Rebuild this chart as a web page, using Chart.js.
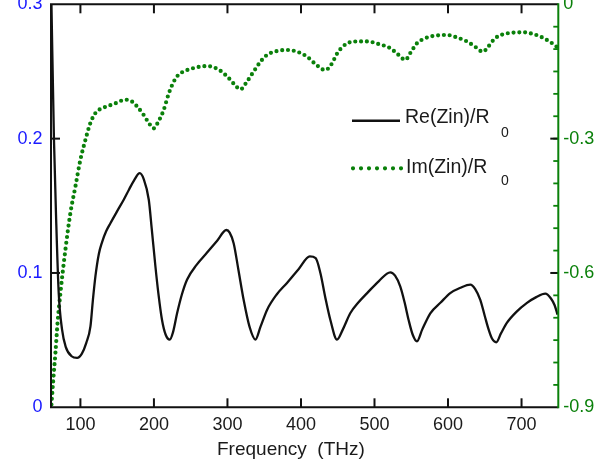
<!DOCTYPE html>
<html><head><meta charset="utf-8">
<script src="https://cdn.jsdelivr.net/npm/chart.js@4.4.1/dist/chart.umd.min.js"></script>
<style>html,body{margin:0;padding:0;background:#fff;overflow:hidden}#wrap{width:616px;height:465px;position:relative}</style>
</head><body><div id="wrap"><canvas id="c" width="616" height="465"></canvas></div>
<script>
// ---- data ----
const reFreq = [60.6,64,67,70.5,75,80,88,95.5,102,108,113.6,117,120.4,125,129.5,135,140.8,150,158.9,166,173,180.7,186,193,197,202,206,211,216,221.5,226,231.5,238,245,258,272,286,298.5,303,308.5,315,322,330,338,345,354,367,381,397,412,420,426.4,433,440,449,457,467,478,490,506,521.5,528,535,541,546.4,552,557.8,565,575.9,590,603,617,630.3,637,643.9,650,655.2,660,665.6,672,680,693,707.4,720,732.3,740,745,749];
const reVal = [0.300,0.200,0.140,0.085,0.058,0.045,0.038,0.0368,0.040,0.048,0.060,0.080,0.0975,0.114,0.123,0.131,0.137,0.146,0.1545,0.162,0.169,0.1743,0.170,0.1545,0.133,0.105,0.085,0.065,0.054,0.0504,0.056,0.070,0.084,0.095,0.106,0.115,0.124,0.132,0.130,0.122,0.102,0.080,0.060,0.0504,0.060,0.0727,0.084,0.0926,0.103,0.1123,0.111,0.100,0.082,0.065,0.0504,0.058,0.070,0.078,0.085,0.094,0.1005,0.098,0.090,0.078,0.065,0.054,0.0491,0.058,0.070,0.078,0.085,0.089,0.0913,0.088,0.080,0.068,0.058,0.051,0.0484,0.055,0.0628,0.071,0.0777,0.082,0.0846,0.081,0.076,0.069];
const imFreq = [60.6,63,66,69,72.8,79.6,86.4,93.2,100,106.8,113.6,120.4,128,136.3,148,161.2,170,177,186,193,199.7,206,213.3,220,226.9,233,240.5,255,272.3,287,299.5,309,317.6,326,335.7,345,353.9,366,381,395,408.3,420,433,441,449.5,456,463,475,490,506,521.5,532,542,549,557.8,566,575.9,598.6,612,625.8,637,647.5,655,664,680,702.7,715,725.4,738,748];
const imVal = [-0.894,-0.84,-0.779,-0.71,-0.645,-0.548,-0.466,-0.407,-0.347,-0.303,-0.265,-0.243,-0.233,-0.228,-0.221,-0.213,-0.217,-0.228,-0.247,-0.265,-0.277,-0.262,-0.236,-0.200,-0.173,-0.158,-0.150,-0.142,-0.138,-0.145,-0.161,-0.178,-0.190,-0.174,-0.150,-0.128,-0.113,-0.105,-0.102,-0.106,-0.117,-0.134,-0.147,-0.135,-0.109,-0.096,-0.087,-0.083,-0.083,-0.089,-0.098,-0.112,-0.124,-0.108,-0.087,-0.078,-0.072,-0.0685,-0.074,-0.083,-0.095,-0.106,-0.094,-0.076,-0.065,-0.0625,-0.066,-0.072,-0.083,-0.095];

const xTicks = [100,200,300,400,500,600,700];
const xTickLabels = ['100','200','300','400','500','600','700'];
const leftTicks = [0,0.1,0.2,0.3];
const leftTickLabels = ['0','0.1','0.2','0.3'];
const rightTicks = [-0.9,-0.6,-0.3,0];
const rightTickLabels = ['-0.9','-0.6','-0.3','0'];
const rightMinorTicks = [];
for (let k = 1; k < 18; k++) rightMinorTicks.push(-0.05 * k);
const seriesNames = ['Re(Zin)/R', 'Im(Zin)/R'];
const seriesSub = '0';
const xTitle = 'Frequency  (THz)';

// ---- styles ----
const FONT = '"Liberation Sans", Arial, Helvetica, sans-serif';
const GREEN = '#0a800a';
const BLUE = '#1a1aff';
const BLACK = '#111';

Chart.defaults.font.family = FONT;

function lbl(ticks, labels) {
  return (v) => { const i = ticks.findIndex(t => Math.abs(t - v) < 1e-9); return i >= 0 ? labels[i] : ''; };
}

const framePlugin = {
  id: 'frame',
  afterDatasetsDraw(chart) {
    const {ctx, chartArea: a, scales} = chart;
    ctx.save();
    ctx.lineCap = 'butt';
    ctx.strokeStyle = BLACK; ctx.lineWidth = 2;
    xTicks.forEach(v => {
      const px = scales.x.getPixelForValue(v);
      ctx.beginPath(); ctx.moveTo(px, a.bottom); ctx.lineTo(px, a.bottom - 9); ctx.stroke();
      ctx.beginPath(); ctx.moveTo(px, a.top); ctx.lineTo(px, a.top + 9); ctx.stroke();
    });
    ctx.strokeStyle = GREEN; ctx.lineWidth = 1.8;
    rightMinorTicks.forEach(v => {
      const py = scales.y1.getPixelForValue(v);
      ctx.beginPath(); ctx.moveTo(a.right, py); ctx.lineTo(a.right - 5, py); ctx.stroke();
    });
    ctx.strokeStyle = BLACK; ctx.lineWidth = 2;
    leftTicks.slice(1, -1).forEach(v => {
      const py = scales.y.getPixelForValue(v);
      ctx.beginPath(); ctx.moveTo(a.left, py); ctx.lineTo(a.left + 9, py); ctx.stroke();
      ctx.beginPath(); ctx.moveTo(a.right, py); ctx.lineTo(a.right - 8, py); ctx.stroke();
    });
    ctx.lineWidth = 2; ctx.strokeStyle = BLACK;
    ctx.beginPath();
    ctx.moveTo(a.right, a.top); ctx.lineTo(a.left, a.top); ctx.lineTo(a.left, a.bottom); ctx.lineTo(a.right, a.bottom);
    ctx.stroke();
    ctx.strokeStyle = GREEN;
    ctx.beginPath(); ctx.moveTo(a.right, a.top - 1); ctx.lineTo(a.right, a.bottom + 1); ctx.stroke();

    // legend
    const lx = a.left + 301, ly1 = a.top + 116.5, ly2 = a.top + 164;
    ctx.strokeStyle = BLACK; ctx.lineWidth = 2.6;
    ctx.beginPath(); ctx.moveTo(lx, ly1); ctx.lineTo(lx + 48, ly1); ctx.stroke();
    ctx.strokeStyle = GREEN; ctx.lineWidth = 4.2; ctx.lineCap = 'round'; ctx.setLineDash([0, 8]);
    ctx.beginPath(); ctx.moveTo(lx + 1, ly2); ctx.lineTo(lx + 50, ly2); ctx.stroke();
    ctx.setLineDash([]);
    ctx.fillStyle = '#1a1a1a';
    ctx.textBaseline = 'alphabetic'; ctx.textAlign = 'left';
    ctx.font = '19.5px ' + FONT;
    ctx.fillText(seriesNames[0], lx + 53, ly1 + 2.5);
    ctx.fillText(seriesNames[1], lx + 54, ly2 + 5);
    ctx.font = '14px ' + FONT;
    ctx.fillText(seriesSub, lx + 149, ly1 + 16);
    ctx.fillText(seriesSub, lx + 149, ly2 + 17);

    // x title
    ctx.font = '19px ' + FONT;
    ctx.fillStyle = '#1a1a1a';
    ctx.fillText(xTitle, a.left + 166, 455);
    ctx.restore();
  }
};

new Chart(document.getElementById('c'), {
  type: 'line',
  data: {
    datasets: [
      { label: seriesNames[0], data: reFreq.map((f, i) => ({x: f, y: reVal[i]})), yAxisID: 'y',
        borderColor: BLACK, borderWidth: 2.3, pointRadius: 0, cubicInterpolationMode: 'monotone', fill: false },
      { label: seriesNames[1], data: imFreq.map((f, i) => ({x: f, y: imVal[i]})), yAxisID: 'y1',
        borderColor: GREEN, borderWidth: 4.2, borderDash: [0, 5.8], borderCapStyle: 'round', pointRadius: 0,
        cubicInterpolationMode: 'monotone', fill: false }
    ]
  },
  options: {
    responsive: false, animation: false, devicePixelRatio: 1,
    layout: { padding: { top: 4.3, left: 0, right: 0, bottom: 0 } },
    plugins: { legend: { display: false }, tooltip: { enabled: false } },
    scales: {
      x: { type: 'linear', position: 'bottom', min: 60, max: 750,
        afterBuildTicks: s => { s.ticks = xTicks.map(v => ({value: v})); },
        afterFit: s => { s.height = 57.7; s.paddingLeft = 0; s.paddingRight = 0; },
        grid: { display: false, drawTicks: false }, border: { display: false },
        ticks: { font: { size: 18 }, color: '#1a1a1a', padding: 7, maxRotation: 0, autoSkip: false,
          callback: lbl(xTicks, xTickLabels) } },
      y: { type: 'linear', position: 'left', min: 0, max: 0.3,
        afterBuildTicks: s => { s.ticks = leftTicks.map(v => ({value: v})); },
        afterFit: s => { s.width = 51; s.paddingTop = 0; s.paddingBottom = 0; },
        grid: { display: false, drawTicks: false }, border: { display: false },
        ticks: { font: { size: 18 }, color: BLUE, padding: 8.5, autoSkip: false,
          callback: lbl(leftTicks, leftTickLabels) } },
      y1: { type: 'linear', position: 'right', min: -0.9, max: 0,
        afterBuildTicks: s => { s.ticks = rightTicks.map(v => ({value: v})); },
        afterFit: s => { s.width = 57.7; s.paddingTop = 0; s.paddingBottom = 0; },
        grid: { display: false, drawTicks: false }, border: { display: false },
        ticks: { font: { size: 18 }, color: GREEN, padding: 5, autoSkip: false,
          callback: lbl(rightTicks, rightTickLabels) } }
    }
  },
  plugins: [framePlugin]
});
</script></body></html>
